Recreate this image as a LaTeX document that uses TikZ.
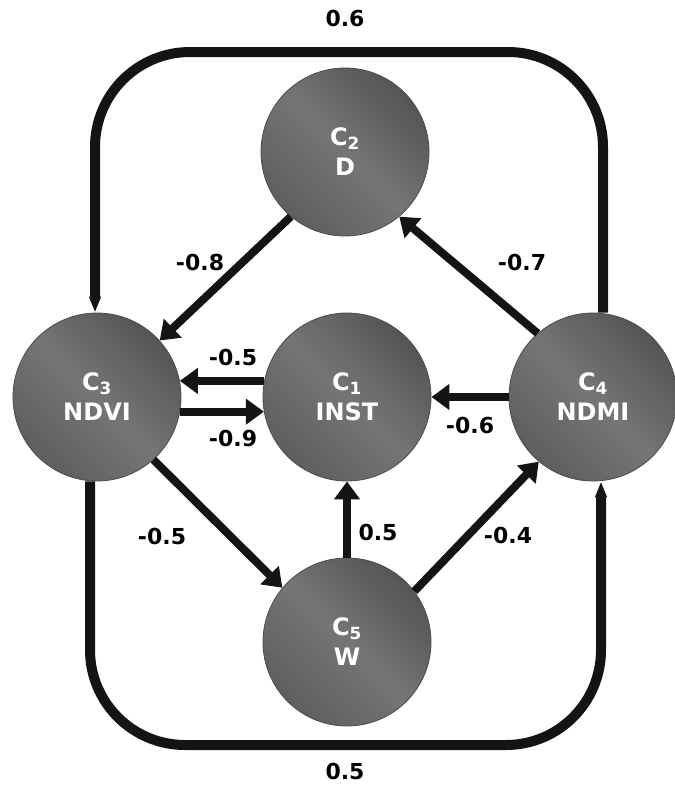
\documentclass[tikz,border=0pt]{standalone}
\usepackage{fontspec}
\setmainfont{DejaVu Sans}
\usetikzlibrary{arrows.meta,shadings}
\definecolor{nodeedge}{gray}{0.30}
\definecolor{nodedark}{gray}{0.37}
\definecolor{nodelight}{gray}{0.46}
\definecolor{linecol}{gray}{0.08}
\tikzset{
  concept/.style={circle, minimum size=168pt, inner sep=0pt, draw=nodeedge, line width=0.8pt,
    left color=nodedark, right color=nodedark!90!black, middle color=nodelight, shading angle=135,
    text=white, align=center, font=\fontsize{24}{30}\selectfont\bfseries},
  edge/.style={draw=linecol, line width=8pt, -{Triangle[length=18pt,width=25pt]}},
  loopline/.style={draw=linecol, line width=10pt, rounded corners=95pt, -{Triangle[length=16pt,width=11pt]}},
  wlabel/.style={font=\fontsize{22}{24}\selectfont\bfseries, text=black, inner sep=0pt}
}
\begin{document}
\begin{tikzpicture}[x=1pt,y=-1pt]
\useasboundingbox (0,0) rectangle (675,785);
% nodes
\node[concept] (C2) at (345,152) {C\textsubscript{2}\\D};
\node[concept] (C3) at (97,397) {C\textsubscript{3}\\NDVI};
\node[concept] (C1) at (347,397) {C\textsubscript{1}\\INST};
\node[concept] (C4) at (593,397) {C\textsubscript{4}\\NDMI};
\node[concept] (C5) at (347,642) {C\textsubscript{5}\\W};
% corner coordinates of the loops
\coordinate (tr) at (603,52);
\coordinate (tl) at (95,52);
\coordinate (bl) at (90,745);
\coordinate (br) at (601,745);
% loops
\draw[loopline] ([xshift=10pt]C4.north) -- (tr) -- (tl) -- ([xshift=-2pt]C3.north);
\draw[loopline] ([xshift=-7pt]C3.south) -- (bl) -- (br) -- ([xshift=8pt]C4.south);
% arrows
\draw[edge] (C2.230) -- (C3.42);
\draw[edge] (C4.131) -- (C2.-50);
\draw[edge] (C1.169) -- (C3.11);
\draw[edge] (C3.-10) -- (C1.190);
\draw[edge] (C4) -- (C1);
\draw[edge] (C3.-48) -- (C5.140);
\draw[edge] (C5) -- (C1);
\draw[edge] (C5.37) -- (C4.230);
% labels
\node[wlabel] (l06) at (345,18) {0.6};
\node[wlabel] (l05b) at (345,771) {0.5};
\node[wlabel] (l08) at (200,262) {-0.8};
\node[wlabel] (l07) at (522,262) {-0.7};
\node[wlabel] (l05a) at (233,357) {-0.5};
\node[wlabel] (l09) at (233,438) {-0.9};
\node[wlabel] (l06b) at (470,425) {-0.6};
\node[wlabel] (l05c) at (162,536) {-0.5};
\node[wlabel] (l05d) at (378,532) {0.5};
\node[wlabel] (l04) at (508,535) {-0.4};
\end{tikzpicture}
\end{document}
